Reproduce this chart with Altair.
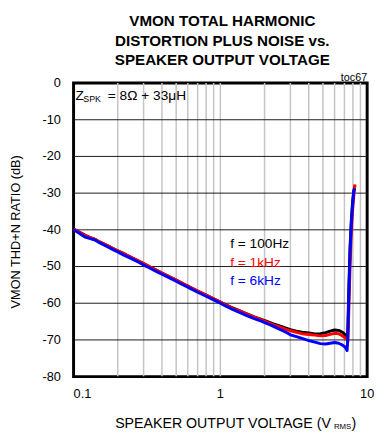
import altair as alt
import pandas as pd

# ---- data ----
x_vals = [0.1, 0.11, 0.12, 0.13, 0.14, 0.15, 0.17, 0.19, 0.2, 0.22, 0.25, 0.28, 0.3,
          0.33, 0.36, 0.4, 0.45, 0.5, 0.55, 0.6, 0.7, 0.8, 0.9, 1.0, 1.1, 1.2, 1.35,
          1.5, 1.7, 1.9, 2.1, 2.3, 2.5, 2.8, 3.0, 3.3, 3.6, 4.0, 4.4, 4.8, 5.2, 5.6,
          6.0, 6.4, 6.8, 7.1, 7.3, 7.38, 7.5, 7.65, 7.8, 7.95, 8.1, 8.25]

thd_100hz = [-39.8, -40.7, -41.5, -42.1, -42.6, -43.3, -44.3, -45.3, -45.7, -46.5, -47.6,
             -48.6, -49.2, -50.1, -50.8, -51.8, -52.8, -53.7, -54.6, -55.3, -56.7, -57.8,
             -58.8, -59.7, -60.5, -61.2, -62.0, -62.8, -63.7, -64.4, -65.0, -65.6, -66.1,
             -66.8, -67.2, -67.6, -67.9, -68.1, -68.4, -68.3, -68.0, -67.6, -67.3, -67.4,
             -67.9, -68.6, -69.4, -67.5, -56.0, -44.5, -37.5, -32.5, -29.5, -28.0]

thd_1khz = [-39.8, -40.7, -41.5, -42.1, -42.6, -43.3, -44.3, -45.3, -45.7, -46.5, -47.6,
            -48.6, -49.2, -50.1, -50.8, -51.8, -52.8, -53.7, -54.6, -55.3, -56.7, -57.8,
            -58.8, -59.7, -60.6, -61.3, -62.1, -62.9, -63.8, -64.5, -65.2, -65.9, -66.4,
            -67.1, -67.5, -67.9, -68.3, -68.5, -68.7, -68.9, -68.8, -68.5, -68.2, -68.3,
            -68.9, -69.5, -70.0, -70.5, -62.0, -50.0, -41.0, -35.0, -31.0, -27.6]

thd_6khz = [-40.0, -41.0, -42.0, -42.4, -42.8, -43.5, -44.6, -45.6, -46.0, -46.9, -47.9,
            -48.9, -49.6, -50.4, -51.2, -52.1, -53.1, -54.0, -54.9, -55.6, -57.0, -58.1,
            -59.1, -60.0, -60.9, -61.6, -62.5, -63.3, -64.2, -64.9, -65.6, -66.3, -67.0,
            -67.9, -68.6, -69.1, -69.6, -70.2, -70.6, -71.0, -71.1, -70.9, -70.7, -70.9,
            -71.4, -72.0, -72.9, -70.0, -58.0, -46.0, -38.5, -33.5, -29.5, -28.7]

series_labels = ["f = 100Hz", "f = 1kHz", "f = 6kHz"]
series_colors = ["#000000", "#ff0000", "#0000ff"]

x_grid = [0.2, 0.3, 0.4, 0.5, 0.6, 0.7, 0.8, 0.9,
          1, 2, 3, 4, 5, 6, 7, 8, 9]
x_label_vals = [0.1, 1, 10]
x_label_text = ["0.1", "1", "10"]
y_ticks = [-70, -60, -50, -40, -30, -20, -10]
y_label_vals = [-80, -70, -60, -50, -40, -30, -20, -10, 0]
y_label_text = ["-80", "-70", "-60", "-50", "-40", "-30", "-20", "-10", "0"]

title_lines = ["VMON TOTAL HARMONIC", "DISTORTION PLUS NOISE vs.", "SPEAKER OUTPUT VOLTAGE"]
y_title = "VMON THD+N RATIO (dB)"
x_title_parts = ["SPEAKER OUTPUT VOLTAGE (V", "RMS", ")"]
zspk_parts = ["Z", "SPK", "= 8\u03a9 + 33\u03bcH"]
corner_tag = "toc67"

FONT = "Liberation Sans, Arial"

W, H = 300, 300

x_scale = alt.Scale(type="log", domain=[0.1, 10], nice=False)
y_scale = alt.Scale(domain=[-80, 0], nice=False)
x_enc = alt.X("v:Q", scale=x_scale, axis=None)
y_enc = alt.Y("d:Q", scale=y_scale, axis=None)

layers = []

# grid lines drawn through the scales (clipped to the plot area)
layers.append(
    alt.Chart(pd.DataFrame({"v": x_grid})).mark_rule(color="#c4c4c4", strokeWidth=1.5, clip=True)
    .encode(x=x_enc)
)
layers.append(
    alt.Chart(pd.DataFrame({"d": y_ticks})).mark_rule(color="#1a1a1a", strokeWidth=1, clip=True)
    .encode(y=y_enc)
)

for vals, col in zip([thd_100hz, thd_1khz, thd_6khz], series_colors):
    df = pd.DataFrame({"v": x_vals, "d": vals})
    layers.append(
        alt.Chart(df).mark_line(color=col, strokeWidth=3, strokeJoin="round").encode(x=x_enc, y=y_enc)
    )

# x tick labels placed through the x scale
for v, t, al in zip(x_label_vals, x_label_text, ["left", "center", "center"]):
    layers.append(
        alt.Chart(pd.DataFrame({"v": [v], "t": [t]})).mark_text(
            font=FONT, fontSize=13, color="black", align=al, baseline="middle"
        ).encode(x=x_enc, y=alt.value(318), text="t:N")
    )

# y tick labels placed through the y scale
layers.append(
    alt.Chart(pd.DataFrame({"d": y_label_vals, "t": y_label_text})).mark_text(
        font=FONT, fontSize=13, color="black", align="right", baseline="middle"
    ).encode(y=y_enc, x=alt.value(-13), text="t:N")
)

def txt(t, x, y, size, color="black", align="left", angle=None, baseline="middle", weight="normal"):
    kw = dict(font=FONT, fontSize=size, color=color, align=align, baseline=baseline, fontWeight=weight)
    if angle is not None:
        kw["angle"] = angle
    return alt.Chart(pd.DataFrame({"t": [t]})).mark_text(**kw).encode(
        text="t:N", x=alt.value(x), y=alt.value(y))

# title
for i, line in enumerate(title_lines):
    layers.append(txt(line, 152, -63 + 20 * i, 15.5, align="center", weight="bold"))

# legend texts
for i, (lab, col) in enumerate(zip(series_labels, series_colors)):
    layers.append(txt(lab, 160, 165 + 18.5 * i, 14, color=col))

# Z_SPK annotation
layers.append(txt(zspk_parts[0], 2, 13, 14))
layers.append(txt(zspk_parts[1], 10, 16, 9))
layers.append(txt(zspk_parts[2], 35, 13, 14))

# toc tag
layers.append(txt(corner_tag, 300, -5, 11, align="right"))

# y axis title
layers.append(txt(y_title, -59, 152, 13, align="center", angle=270))

# x axis title
layers.append(txt(x_title_parts[0], 263, 349, 14.5, align="right"))
layers.append(txt(x_title_parts[1], 266, 352, 8))
layers.append(txt(x_title_parts[2], 284, 349, 14.5))

chart = alt.layer(*layers).properties(
    width=W, height=H,
    autosize=alt.AutoSizeParams(type="none"),
    padding={"left": 67, "top": 72, "right": 7, "bottom": 56},
).configure_view(stroke="black", strokeWidth=3)

chart.save("out.html", embed_options={"renderer": "svg", "actions": False})
